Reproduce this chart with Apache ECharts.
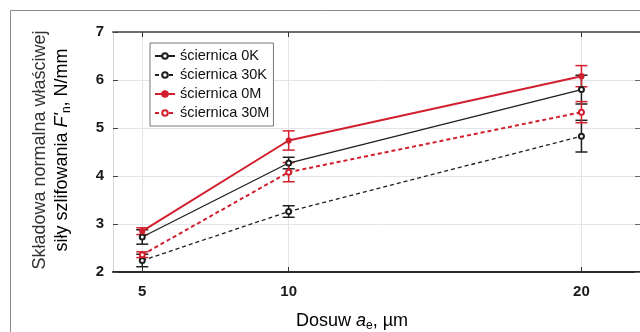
<!DOCTYPE html>
<html><head><meta charset="utf-8">
<script src="https://cdn.jsdelivr.net/npm/echarts@6/dist/echarts.min.js"></script>
<style>html,body{margin:0;padding:0;background:#fff}#c{width:640px;height:332px}</style>
</head><body><div id="c"></div>
<script>
const feeds = [5, 10, 20];
const xTicks = [5, 10, 20];
const yTicks = [2, 3, 4, 5, 6, 7];
const names = ['ściernica 0K', 'ściernica 30K', 'ściernica 0M', 'ściernica 30M'];
const f0K  = [2.73, 4.27, 5.80];
const f30K = [2.24, 3.26, 4.83];
const f0M  = [2.85, 4.74, 6.08];
const f30M = [2.36, 4.08, 5.33];
const e0K  = [0.15, 0.12, 0.30];
const e30K = [0.13, 0.12, 0.33];
const e0M  = [0.07, 0.20, 0.22];
const e30M = [0.06, 0.20, 0.22];

const BLACK = '#1e1e1e', RED = '#d21f2e';
const FONT = 'Liberation Sans, Arial, sans-serif';

function lineSeries(name, vals, color, dashed, width, symbol) {
  return {
    name, type: 'line', z: 5,
    data: feeds.map((x, i) => [x, vals[i]]),
    symbol, symbolSize: 5,
    lineStyle: { color, width, type: dashed ? [4, 3] : 'solid' },
    itemStyle: { color, borderColor: color, borderWidth: 1.2 },
    emphasis: { disabled: true }, animation: false
  };
}
function errSeries(vals, errs, color) {
  return {
    type: 'custom', z: 4, silent: true, animation: false,
    data: feeds.map((x, i) => [x, vals[i] - errs[i], vals[i] + errs[i]]),
    encode: { x: 0, y: [1, 2] },
    renderItem: (params, api) => {
      const lo = api.coord([api.value(0), api.value(1)]);
      const hi = api.coord([api.value(0), api.value(2)]);
      const w = 6, st = { stroke: color, lineWidth: 1.5 };
      return { type: 'group', children: [
        { type: 'line', shape: { x1: lo[0], y1: lo[1], x2: hi[0], y2: hi[1] }, style: st },
        { type: 'line', shape: { x1: lo[0] - w, y1: lo[1], x2: lo[0] + w, y2: lo[1] }, style: st },
        { type: 'line', shape: { x1: hi[0] - w, y1: hi[1], x2: hi[0] + w, y2: hi[1] }, style: st }
      ]};
    }
  };
}

const chart = echarts.init(document.getElementById('c'), null, { renderer: 'canvas' });
const richY = {
  n: { fontSize: 18, fontFamily: FONT, color: '#333', lineHeight: 22, verticalAlign: 'middle' },
  i: { fontSize: 18, fontFamily: FONT, color: '#333', fontStyle: 'italic', lineHeight: 22, verticalAlign: 'middle' },
  s: { fontSize: 12, fontFamily: FONT, color: '#333', lineHeight: 10, verticalAlign: 'bottom' }
};
chart.setOption({
  animation: false,
  textStyle: { fontFamily: FONT },
  grid: { left: 113, top: 32, width: 529, height: 240 },
  legend: {
    data: names, orient: 'vertical', left: 150, top: 43,
    itemWidth: 20, itemHeight: 7, itemGap: 3, padding: [5, 4],
    backgroundColor: '#fff', borderColor: '#777', borderWidth: 1,
    textStyle: { fontSize: 14.5, color: '#111', fontFamily: FONT, lineHeight: 16 }
  },
  xAxis: [{
    type: 'value', min: 4, max: 22, position: 'bottom',
    axisLine: { lineStyle: { color: '#2a2a2a', width: 2 } },
    axisTick: { inside: true, length: 5, customValues: xTicks, lineStyle: { color: '#333' } },
    axisLabel: { customValues: xTicks, fontSize: 15, fontWeight: 'bold', color: '#1a1a1a', margin: 12, fontFamily: FONT },
    splitLine: { show: true, lineStyle: { color: '#e2e6eb', width: 1 } }
  }, {
    type: 'value', min: 4, max: 22, position: 'top',
    axisLine: { lineStyle: { color: '#6e6e6e', width: 2 } },
    axisTick: { inside: true, length: 5, customValues: xTicks, lineStyle: { color: '#333' } },
    axisLabel: { show: false, customValues: xTicks },
    splitLine: { show: false }
  }],
  yAxis: [{
    type: 'value', min: 2, max: 7, interval: 1, position: 'left',
    axisLine: { show: true, lineStyle: { color: '#cdd4dc', width: 1 } },
    axisTick: { show: true, inside: true, length: 5, lineStyle: { color: '#444' } },
    axisLabel: { fontSize: 15, fontWeight: 'bold', color: '#1a1a1a', margin: 9, fontFamily: FONT },
    splitLine: { show: true, lineStyle: { color: '#e2e6eb', width: 1 } }
  }, {
    type: 'value', min: 2, max: 7, interval: 1, position: 'right',
    axisLine: { show: false },
    axisTick: { show: true, inside: true, length: 5, lineStyle: { color: '#666' } },
    axisLabel: { show: false }, splitLine: { show: false }
  }],
  graphic: [
    { type: 'rect', shape: { x: 10.5, y: 10.5, width: 640, height: 330 },
      style: { fill: 'none', stroke: '#8a8a8a', lineWidth: 1 }, silent: true, z: 0 },
    { type: 'text', x: 40, y: 150, rotation: Math.PI / 2,
      style: { text: 'Składowa normalna właściwej', font: '18px ' + FONT, fill: '#333', align: 'center', verticalAlign: 'middle' } },
    { type: 'text', x: 62, y: 150, rotation: Math.PI / 2,
      style: { text: '{n|siły szlifowania }{i|F\'}{s|n}{n|, N/mm}', rich: richY, align: 'center', verticalAlign: 'middle' } },
    { type: 'text', x: 352, y: 321,
      style: { text: '{n|Dosuw }{i|a}{s|e}{n|, µm}', rich: richY, align: 'center', verticalAlign: 'middle' } }
  ],
  series: [
    errSeries(f0K, e0K, BLACK),
    errSeries(f30K, e30K, BLACK),
    errSeries(f0M, e0M, RED),
    errSeries(f30M, e30M, RED),
    lineSeries(names[0], f0K, BLACK, false, 1.3, 'emptyCircle'),
    lineSeries(names[1], f30K, BLACK, true, 1.3, 'emptyCircle'),
    lineSeries(names[2], f0M, RED, false, 2, 'circle'),
    lineSeries(names[3], f30M, RED, true, 2, 'emptyCircle')
  ]
});
</script>
</body></html>
